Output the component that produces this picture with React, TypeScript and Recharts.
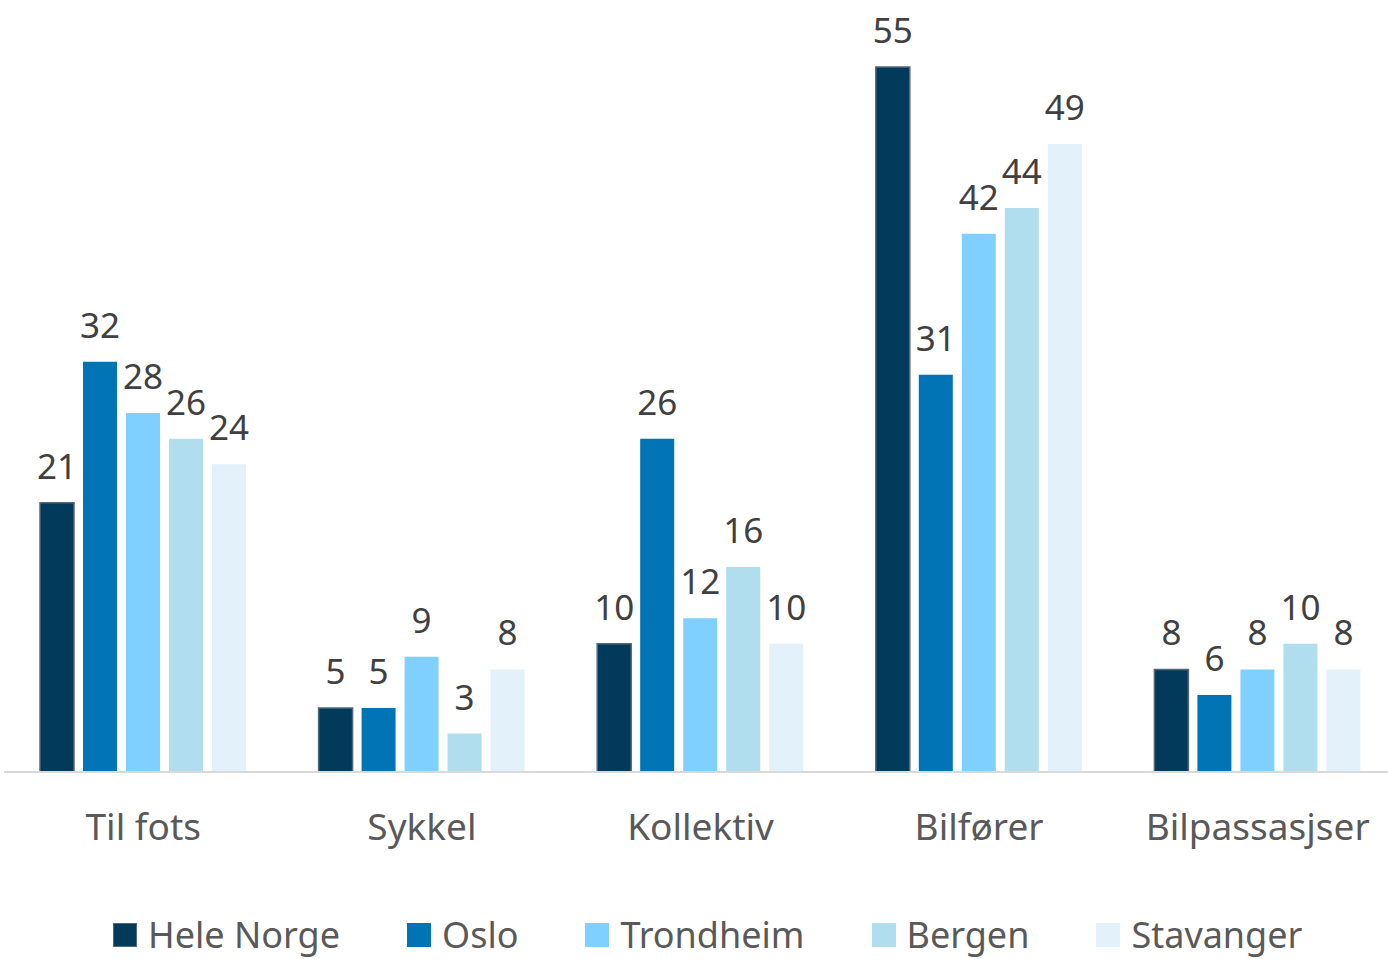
import React from "react";
import {
  BarChart,
  Bar,
  XAxis,
  YAxis,
  Legend,
  LabelList,
} from "recharts";

const categories = ["Til fots", "Sykkel", "Kollektiv", "Bilfører", "Bilpassasjser"];
const heleNorge = [21, 5, 10, 55, 8];
const oslo = [32, 5, 26, 31, 6];
const trondheim = [28, 9, 12, 42, 8];
const bergen = [26, 3, 16, 44, 10];
const stavanger = [24, 8, 10, 49, 8];

const series = [
  { key: "hele", name: "Hele Norge", values: heleNorge, color: "#023a5b", stroke: "#55687a" },
  { key: "oslo", name: "Oslo", values: oslo, color: "#0074b5", stroke: "none" },
  { key: "trondheim", name: "Trondheim", values: trondheim, color: "#80d0ff", stroke: "none" },
  { key: "bergen", name: "Bergen", values: bergen, color: "#b0deee", stroke: "none" },
  { key: "stavanger", name: "Stavanger", values: stavanger, color: "#e3f2fa", stroke: "none" },
];

const data = categories.map((c, i) => {
  const row: Record<string, string | number> = { category: c };
  series.forEach((s) => {
    row[s.key] = s.values[i];
  });
  return row;
});

const FONT = "'Noto Sans', sans-serif";

function LegendContent() {
  return (
    <div
      style={{
        display: "flex",
        alignItems: "center",
        height: 42,
        paddingLeft: 113,
        fontFamily: FONT,
        fontSize: 36,
        color: "#595959",
      }}
    >
      {series.map((s) => (
        <div key={s.key} style={{ display: "flex", alignItems: "center", marginRight: 67 }}>
          <span
            style={{
              display: "inline-block",
              width: 24,
              height: 24,
              background: s.color,
              boxSizing: "border-box",
              border: s.stroke !== "none" ? `1.5px solid ${s.stroke}` : "none",
              marginRight: 11,
            }}
          />
          <span style={{ lineHeight: "36px", whiteSpace: "nowrap" }}>{s.name}</span>
        </div>
      ))}
    </div>
  );
}

export default function App() {
  return (
    <div
      style={{
        position: "absolute",
        left: 0,
        top: 0,
        width: 1388,
        height: 959,
        overflow: "hidden",
        background: "#fff",
      }}
    >
      <BarChart
        width={1397}
        height={959}
        data={data}
        barSize={34}
        barGap={9}
        margin={{ top: 67, right: 0, left: 4, bottom: 3 }}
      >
        <XAxis
          dataKey="category"
          height={142}
          axisLine={{ stroke: "#d9d9d9", strokeWidth: 2 }}
          tickLine={false}
          tickSize={0}
          tickMargin={42}
          tick={{ fontSize: 37, fill: "#595959", fontFamily: FONT }}
          interval={0}
        />
        <YAxis hide domain={[0, 55]} />
        <Legend
          verticalAlign="bottom"
          content={() => <LegendContent />}
          wrapperStyle={{ left: 0, width: 1388 }}
        />
        {series.map((s) => (
          <Bar
            key={s.key}
            dataKey={s.key}
            name={s.name}
            fill={s.color}
            stroke={s.stroke}
            strokeWidth={1.5}
            isAnimationActive={false}
          >
            <LabelList
              dataKey={s.key}
              position="top"
              offset={24}
              style={{ fontSize: 35, fill: "#404040", fontFamily: FONT }}
            />
          </Bar>
        ))}
      </BarChart>
    </div>
  );
}
